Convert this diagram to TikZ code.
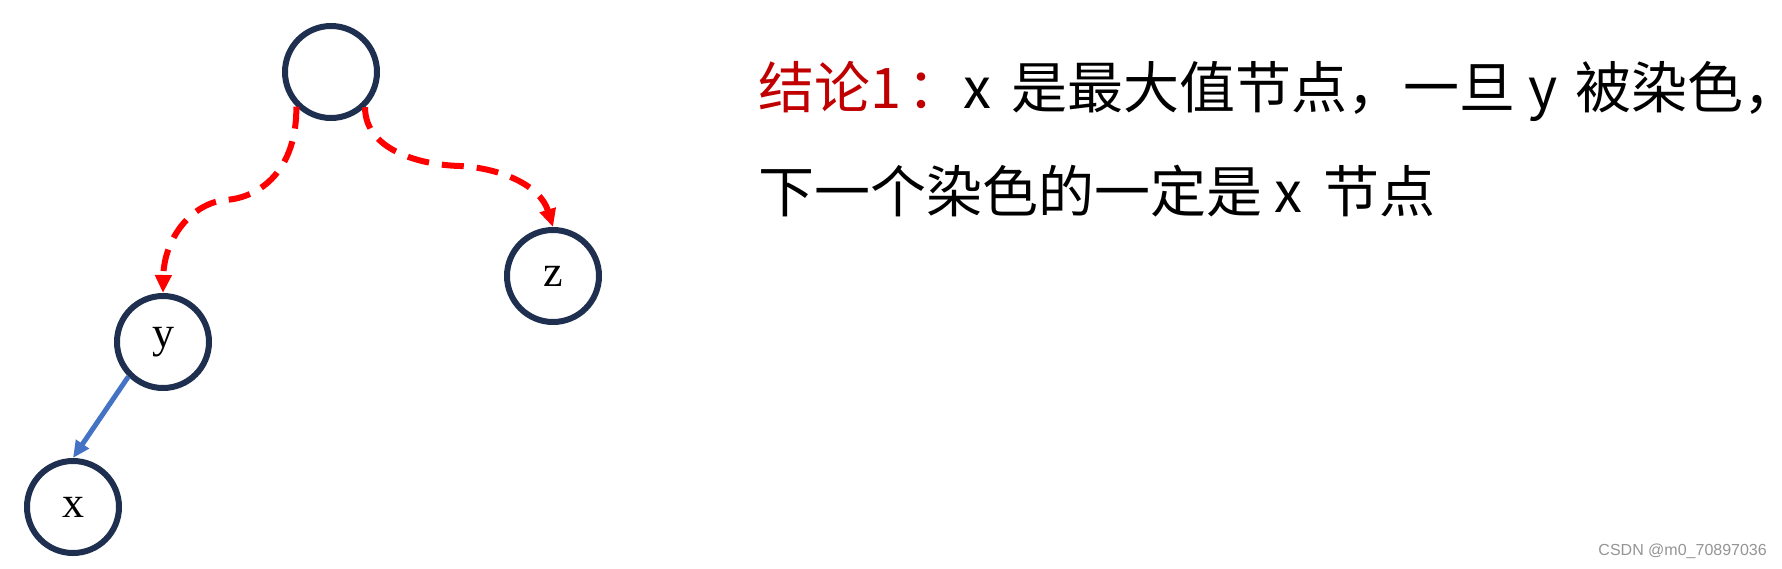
\documentclass[tikz,border=0pt]{standalone}
\usepackage{fontspec}
\setmainfont{Liberation Serif}
\newfontfamily\cjk{Noto Sans CJK SC}
\newfontfamily\wmfont{Liberation Sans}
\usetikzlibrary{arrows.meta}
\definecolor{navy}{HTML}{1F2F50}
\definecolor{redarrow}{HTML}{FF0000}
\definecolor{bluearrow}{HTML}{4472C4}
\definecolor{darkred}{HTML}{C00000}
\tikzset{
  treenode/.style={circle,draw=navy,line width=6pt,minimum size=92pt,inner sep=0pt,
    font=\fontsize{44}{48}\selectfont},
  redlink/.style={draw=redarrow,line width=6pt,dash pattern=on 22pt off 13pt,
    -{Triangle[length=18pt,width=16pt]}},
  bluelink/.style={draw=bluearrow,line width=5pt,-{Triangle[length=17pt,width=15pt]}},
  bigtext/.style={anchor=base west,inner sep=0pt,font=\cjk\fontsize{56}{60}\selectfont},
  wm/.style={anchor=east,inner sep=0pt,text=black!42,font=\wmfont\fontsize{16}{18}\selectfont}
}
\begin{document}
\begin{tikzpicture}[x=1pt,y=-1pt]
\useasboundingbox (0,0) rectangle (1782,568);
\node[treenode] (r) at (331,72) {};
\node[treenode] (z) at (553,276) {z};
\node[treenode] (y) at (163,342) {y};
\node[treenode] (x) at (73,507) {x};
\draw[redlink] (r.225) .. controls (297,170) and (260,198) .. (225,200)
  .. controls (190,204) and (164,240) .. (y.north);
\draw[redlink] (r.314) .. controls (365,150) and (420,165) .. (460,166)
  .. controls (500,168) and (540,185) .. (z.north);
\draw[bluelink] (y.225) -- (x.north);
\node[bigtext] (t1) at (758,108) {\textcolor{darkred}{结论1\hspace{6pt}：}x\hspace{8pt} 是最大值节点，一旦 y\hspace{6pt} 被染色\makebox[24pt][l]{，}};
\node[bigtext] (t2) at (758,212) {下一个染色的一定是 x\hspace{8pt} 节点};
\node[wm] (w) at (1767,551) {CSDN @m0\_70897036};
\end{tikzpicture}
\end{document}
